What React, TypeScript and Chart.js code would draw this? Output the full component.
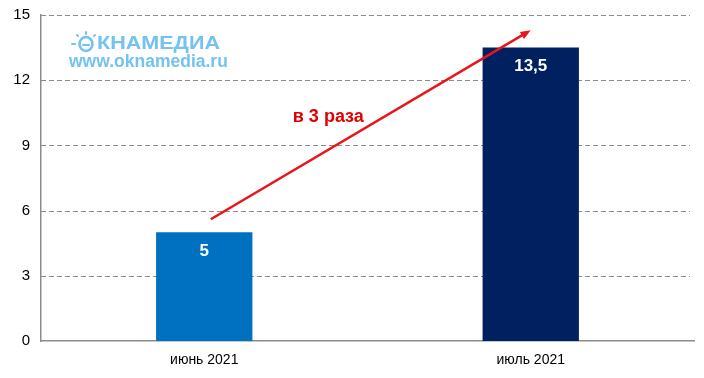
import React, { useEffect, useRef } from "react";
import { Chart, registerables } from "chart.js";

Chart.register(...registerables);

const categories = ["июнь 2021", "июль 2021"];
const values = [5, 13.5];
const valueLabels = ["5", "13,5"];
const barColors = ["#0070C0", "#002060"];
const yTicks = [0, 3, 6, 9, 12, 15];
const arrowFrom = { x: 0.02, y: 5.6 };
const arrowTo = { x: 1.0, y: 14.3 };
const arrowLabel = "в 3 раза";
const arrowLabelPos = { x: 0.38, y: 10.3 };
const logoTitle = "КНАМЕДИА";
const logoUrl = "www.oknamedia.ru";

const FONT = "'Liberation Sans', Arial, sans-serif";

const overlay = {
  id: "overlay",
  beforeDatasetsDraw(chart: any) {
    const ctx = chart.ctx;
    const { left, right } = chart.chartArea;
    const ys = chart.scales.y;
    ctx.save();
    ctx.strokeStyle = "#8c8c8c";
    ctx.lineWidth = 1;
    ctx.setLineDash([5, 3]);
    yTicks.forEach((v) => {
      if (v === 0) return;
      const y = Math.round(ys.getPixelForValue(v)) + 0.5;
      ctx.beginPath();
      ctx.moveTo(left, y);
      ctx.lineTo(right - 4, y);
      ctx.stroke();
    });
    ctx.restore();
  },
  afterDatasetsDraw(chart: any) {
    const ctx = chart.ctx;
    const xs = chart.scales.x;
    const ys = chart.scales.y;
    const meta = chart.getDatasetMeta(0);
    ctx.save();
    // value labels
    ctx.fillStyle = "#ffffff";
    ctx.font = `bold 17px ${FONT}`;
    ctx.textAlign = "center";
    ctx.textBaseline = "middle";
    meta.data.forEach((bar: any, i: number) => {
      ctx.fillText(valueLabels[i], bar.x, bar.y + 19);
    });
    // arrow
    const px = (v: number) => xs.getPixelForValue(v);
    const x1 = px(arrowFrom.x), y1 = ys.getPixelForValue(arrowFrom.y);
    const x2 = px(arrowTo.x), y2 = ys.getPixelForValue(arrowTo.y);
    ctx.strokeStyle = "#E8161B";
    ctx.fillStyle = "#E8161B";
    ctx.lineWidth = 2.5;
    const ang = Math.atan2(y2 - y1, x2 - x1);
    const hl = 11;
    ctx.beginPath();
    ctx.moveTo(x1, y1);
    ctx.lineTo(x2 - Math.cos(ang) * hl * 0.8, y2 - Math.sin(ang) * hl * 0.8);
    ctx.stroke();
    ctx.beginPath();
    ctx.moveTo(x2, y2);
    ctx.lineTo(x2 - hl * Math.cos(ang - 0.38), y2 - hl * Math.sin(ang - 0.38));
    ctx.lineTo(x2 - hl * Math.cos(ang + 0.38), y2 - hl * Math.sin(ang + 0.38));
    ctx.closePath();
    ctx.fill();
    // arrow label
    ctx.fillStyle = "#E00000";
    ctx.font = `bold 18px ${FONT}`;
    ctx.fillText(arrowLabel, px(arrowLabelPos.x), ys.getPixelForValue(arrowLabelPos.y));
    // logo
    const lx = chart.chartArea.left;
    const ly = chart.chartArea.top;
    ctx.fillStyle = "#74C2EF";
    ctx.strokeStyle = "#74C2EF";
    ctx.textAlign = "left";
    ctx.font = `bold 19px ${FONT}`;
    const w = ctx.measureText(logoTitle).width;
    const sx = 123 / w;
    ctx.save();
    ctx.translate(lx + 56, ly + 29);
    ctx.scale(sx, 1);
    ctx.fillText(logoTitle, 0, 0);
    ctx.restore();
    // sun face
    const cx = lx + 45, cy = ly + 29;
    ctx.lineWidth = 2.6;
    ctx.beginPath();
    ctx.ellipse(cx, cy, 6.5, 7, 0, 0, Math.PI * 2);
    ctx.stroke();
    ctx.lineWidth = 2;
    ctx.lineCap = "round";
    ctx.beginPath();
    ctx.moveTo(cx - 3, cy + 1); ctx.lineTo(cx + 3, cy + 1);
    ctx.moveTo(cx - 14, cy); ctx.lineTo(cx - 11, cy);
    ctx.moveTo(cx - 9, cy - 9); ctx.lineTo(cx - 8, cy - 8);
    ctx.moveTo(cx, cy - 12); ctx.lineTo(cx, cy - 10);
    ctx.moveTo(cx + 9, cy - 9); ctx.lineTo(cx + 8, cy - 8);
    ctx.stroke();
    ctx.font = `bold 17.5px ${FONT}`;
    ctx.fillText(logoUrl, lx + 28, ly + 47);
    ctx.restore();
  },
};

export default function App() {
  const ref = useRef<HTMLCanvasElement>(null);
  useEffect(() => {
    document.body.style.margin = "0";
    const chart = new Chart(ref.current!, {
      type: "bar",
      data: {
        labels: categories,
        datasets: [
          {
            data: values,
            backgroundColor: barColors,
            barPercentage: 0.59,
            categoryPercentage: 0.5,
          },
        ],
      },
      options: {
        animation: false,
        responsive: false,
        layout: { padding: { top: 15, right: 10, left: 0, bottom: 0 } },
        plugins: { legend: { display: false }, tooltip: { enabled: false } },
        scales: {
          x: {
            grid: { display: false },
            border: { display: true, color: "#8c8c8c", width: 1.5 },
            ticks: {
              color: "#000",
              font: { family: FONT, size: 14 },
              padding: 3,
            },
            afterFit(s: any) {
              s.height = 37;
              s.paddingLeft = 0;
              s.paddingRight = 0;
            },
          },
          y: {
            min: 0,
            max: 15,
            afterBuildTicks(s: any) {
              s.ticks = yTicks.map((v) => ({ value: v }));
            },
            grid: { display: false, drawTicks: false },
            border: { display: true, color: "#8c8c8c", width: 1.5 },
            ticks: {
              color: "#000",
              font: { family: FONT, size: 15 },
              padding: 11,
            },
            afterFit(s: any) {
              s.width = 41;
              s.paddingTop = 0;
              s.paddingBottom = 0;
            },
          },
        },
      },
      plugins: [overlay],
    } as any);
    return () => chart.destroy();
  }, []);
  return <canvas ref={ref} width={704} height={378} style={{ display: "block" }} />;
}
